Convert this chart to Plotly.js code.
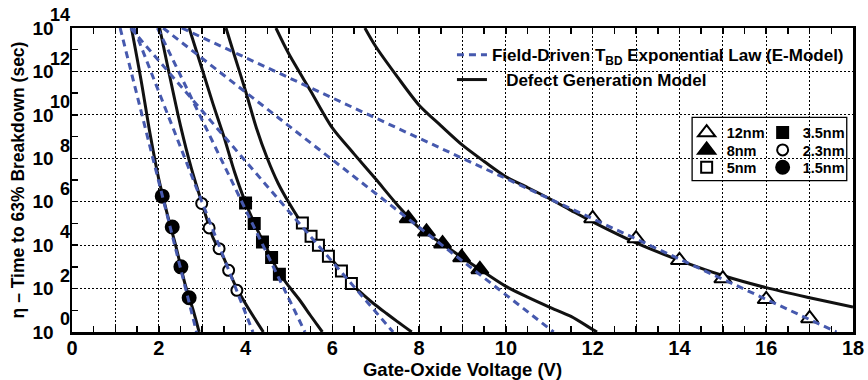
<!DOCTYPE html>
<html>
<head>
<meta charset="utf-8">
<script src="https://cdn.plot.ly/plotly-3.0.1.min.js"></script>
<style>html,body{margin:0;padding:0;background:#fff;}#chart{width:868px;height:380px;}</style>
</head>
<body>
<div id="chart"></div>
<script>
// ---- measured data: markers (gate-oxide voltage V, time-to-breakdown s) ----
const v15 = [2.08, 2.31, 2.51, 2.70];
const t15 = [1.8e6, 6.9e4, 1.0e3, 38];
const v23 = [2.99, 3.16, 3.39, 3.61, 3.80];
const t23 = [8.3e5, 6.2e4, 6.9e3, 6.9e2, 83];
const v35 = [4.00, 4.20, 4.39, 4.60, 4.78];
const t35 = [8.7e5, 1.0e5, 1.4e4, 2.7e3, 4.6e2];
const v50 = [5.31, 5.51, 5.68, 5.91, 6.21, 6.44];
const t50 = [1.05e5, 2.6e4, 1.0e4, 3.1e3, 6.5e2, 1.7e2];
const v80 = [7.75, 8.17, 8.54, 8.98, 9.40];
const t80 = [1.7e5, 4.1e4, 1.17e4, 2.7e3, 7.6e2];
const v120 = [12, 13, 14, 15, 16, 17];
const t120 = [1.7e5, 2.0e4, 2.0e3, 2.9e2, 32, 4.2];

// ---- Field-driven exponential law (E-model): straight lines on log scale ----
const eV15 = [1.11, 2.87],  eT15 = [1e14, 1];
const eV23 = [1.425, 4.17], eT23 = [1e14, 1];
const eV35 = [1.97, 5.37],  eT35 = [1e14, 1];
const eV50 = [1.35, 7.40],  eT50 = [1e14, 1];
const eV80 = [2.10, 11.10], eT80 = [1e14, 1];
const eV120 = [2.53, 17.62], eT120 = [1e14, 1];

// ---- Defect generation model curves ----
const dV15 = [1.37, 1.6, 1.8, 2.0, 2.2, 2.4, 2.6, 2.8, 2.93];
const dT15 = [1e14, 3.2e11, 1.3e9, 1.1e7, 2.5e5, 8e3, 1.8e2, 9, 1];
const dV23 = [2.02, 2.25, 2.5, 2.75, 3.0, 3.25, 3.5, 3.75, 4.0, 4.2, 4.41];
const dT23 = [1e14, 6.3e11, 3.2e9, 3.5e7, 7.9e5, 2.2e4, 2.5e3, 1.6e2, 20, 4.5, 1];
const dV35 = [2.7, 3.0, 3.25, 3.5, 3.75, 4.0, 4.25, 4.5, 4.75, 5.0, 5.25, 5.5, 5.77];
const dT35 = [1e14, 1.26e12, 3.2e10, 1e9, 2.2e7, 8.9e5, 6.3e4, 6.3e3, 6.3e2, 1.26e2, 29, 5.6, 1];
const dV50 = [3.55, 3.75, 4.0, 4.25, 4.5, 4.75, 5.0, 5.25, 5.5, 5.75, 6.0, 6.25, 6.5, 6.75, 7.0, 7.25, 7.5, 7.83];
const dT50 = [1e14, 5e12, 1.26e11, 2.5e9, 1e8, 7.1e6, 8.9e5, 1.4e5, 2.8e4, 7.1e3, 2e3, 5.2e2, 1.26e2, 45, 17, 7.1, 3, 1];
const dV80 = [4.7, 5.0, 5.5, 6.0, 6.5, 7.0, 7.5, 8.0, 8.5, 9.0, 9.5, 10.0, 10.5, 11.0, 11.5, 12.0, 12.1];
const dT80 = [1e14, 6.3e12, 1.26e11, 2.5e9, 1.6e8, 1.1e7, 7.1e5, 6.3e4, 1.3e4, 2.6e3, 5.6e2, 1.26e2, 40, 14, 5.2, 1.3, 1];
const dV120 = [6.75, 7.0, 7.5, 8.0, 8.5, 9.0, 9.5, 10.0, 10.5, 11.0, 11.5, 12, 13, 14, 15, 16, 17, 18];
const dT120 = [1e14, 1.4e13, 5.6e11, 2.8e10, 3.2e9, 4e8, 7.1e7, 1.4e7, 4.5e6, 1.4e6, 4e5, 1.17e5, 1.26e4, 2e3, 4e2, 1.1e2, 38, 14];

// ---- ticks and labels ----
const xGridVals = [0,1,2,3,4,5,6,7,8,9,10,11,12,13,14,15,16,17,18];
const xLabelVals = [0, 2, 4, 6, 8, 10, 12, 14, 16, 18];
const yTickVals = [1, 1e2, 1e4, 1e6, 1e8, 1e10, 1e12, 1e14];
const yTickBase = ['10','10','10','10','10','10','10','10'];
const yTickExp = ['0','2','4','6','8','10','12','14'];
const yMinorVals = [10, 1e3, 1e5, 1e7, 1e9, 1e11, 1e13];

const BLUE = '#4659AE';
const FONT = 'Liberation Sans, Arial, sans-serif';

const eSeries = [[eV15,eT15],[eV23,eT23],[eV35,eT35],[eV50,eT50],[eV80,eT80],[eV120,eT120]];
const dSeries = [[dV15,dT15],[dV23,dT23],[dV35,dT35],[dV50,dT50],[dV80,dT80],[dV120,dT120]];

const traces = [];
dSeries.forEach((s,i) => traces.push({
  x: s[0], y: s[1], mode: 'lines', type: 'scatter', xaxis: 'x', yaxis: 'y',
  line: {color: '#111', width: 3, shape: 'spline', smoothing: 0.8},
  name: '\u00a0\u00a0\u00a0Defect Generation Model',
  showlegend: i === 0, legend: 'legend5', hoverinfo: 'skip'
}));
eSeries.forEach((s,i) => traces.push({
  x: s[0], y: s[1], mode: 'lines', type: 'scatter', xaxis: 'x2', yaxis: 'y',
  line: {color: BLUE, width: 3, dash: '7px,5px'},
  name: 'Field-Driven T<sub>BD</sub> Exponential Law (E-Model)',
  showlegend: i === 0, legend: 'legend', hoverinfo: 'skip'
}));

const markerSeries = [
  {x: v120, y: t120, name: '12nm', symbol: 'triangle-up', fill: 'white', size: 15, leg: 'legend2', rank: 1, w: 31},
  {x: v35,  y: t35,  name: '3.5nm', symbol: 'square',     fill: 'black', size: 11, leg: 'legend2', rank: 2, w: 46},
  {x: v80,  y: t80,  name: '8nm',  symbol: 'triangle-up', fill: 'black', size: 15, leg: 'legend3', rank: 1, w: 31},
  {x: v23,  y: t23,  name: '2.3nm', symbol: 'circle',     fill: 'white', size: 11, leg: 'legend3', rank: 2, w: 46},
  {x: v50,  y: t50,  name: '5nm',  symbol: 'square',      fill: 'white', size: 11, leg: 'legend4', rank: 1, w: 31},
  {x: v15,  y: t15,  name: '1.5nm', symbol: 'circle',     fill: 'black', size: 13, leg: 'legend4', rank: 2, w: 46}
];
markerSeries.forEach(m => traces.push({
  x: m.x, y: m.y, mode: 'markers', type: 'scatter', name: m.name, xaxis: 'x', yaxis: 'y2',
  marker: {symbol: m.symbol, color: m.fill, size: m.size, line: {color: 'black', width: 2}},
  legend: m.leg, legendrank: m.rank, legendwidth: m.w, hoverinfo: 'skip'
}));

const topFont = {family: FONT, size: 17, color: 'black', weight: 'bold'};
const boxFont = {family: FONT, size: 14.5, color: 'black', weight: 'bold'};
function rowLegend(y) {
  return {x: 0.787, y: y, xanchor: 'left', yanchor: 'middle', orientation: 'h',
    entrywidthmode: 'pixels',
    bgcolor: 'rgba(0,0,0,0)', borderwidth: 0, font: boxFont, traceorder: 'normal'};
}
function lineLegend(y) {
  return {x: 0.4865, y: y, xanchor: 'left', yanchor: 'middle',
    bgcolor: 'rgba(0,0,0,0)', borderwidth: 0, font: topFont};
}
const tickCommon = {ticks: 'inside', ticklen: 6, tickwidth: 1.5, tickcolor: 'black'};
const gridCommon = {showgrid: true, gridcolor: 'black', gridwidth: 1, griddash: '1.5px,2.5px'};

const layout = {
  width: 868, height: 380,
  margin: {l: 72, r: 15, t: 28, b: 48, autoexpand: false},
  paper_bgcolor: 'white', plot_bgcolor: 'white',
  showlegend: true,
  font: {family: FONT, color: 'black'},
  xaxis: Object.assign({
    range: [0, 18], tickmode: 'array', tickvals: xGridVals, showticklabels: false,
    showline: true, linecolor: 'black', linewidth: 2.5, mirror: 'allticks', zeroline: false,
    minor: Object.assign({dtick: 0.5, showgrid: false}, tickCommon)
  }, tickCommon, gridCommon),
  xaxis2: {
    overlaying: 'x', anchor: 'y', side: 'bottom', range: [0, 18],
    tickmode: 'array', tickvals: xLabelVals, ticks: '', showgrid: false, showline: false, zeroline: false,
    ticklabelstandoff: 2,
    tickfont: {family: FONT, size: 20, weight: 'bold', color: 'black'},
    title: {text: 'Gate-Oxide Voltage (V)', font: {family: FONT, size: 18.5, weight: 'bold', color: 'black'}, standoff: 2}
  },
  yaxis: Object.assign({
    type: 'log', range: [0, 14], tickmode: 'array', tickvals: yTickVals, ticktext: yTickBase,
    showline: true, linecolor: 'black', linewidth: 2.5, mirror: true, zeroline: false,
    ticklabelstandoff: 12,
    tickfont: {family: FONT, size: 19, weight: 'bold', color: 'black'},
    minor: Object.assign({tickmode: 'array', tickvals: yMinorVals, showgrid: false}, tickCommon),
    title: {text: 'η – Time to 63% Breakdown (sec)', font: {family: FONT, size: 17.5, weight: 'bold', color: 'black'}, standoff: 4}
  }, tickCommon, gridCommon),
  yaxis2: {
    overlaying: 'y', anchor: 'x', side: 'left', type: 'log', range: [0, 14],
    tickmode: 'array', tickvals: yTickVals, ticktext: yTickExp, ticks: '',
    showgrid: false, showline: false, zeroline: false,
    ticklabelstandoff: 1, ticklabelshift: -13,
    tickfont: {family: FONT, size: 18, weight: 'bold', color: 'black'}
  },
  legend: lineLegend(0.9102),
  legend5: lineLegend(0.8289),
  legend2: rowLegend(0.6556),
  legend3: rowLegend(0.5987),
  legend4: rowLegend(0.5418),
  shapes: [{
    type: 'rect', xref: 'paper', yref: 'paper',
    x0: 0.794, x1: 0.992, y0: 0.498, y1: 0.706,
    line: {color: 'black', width: 1.3}, fillcolor: 'white', layer: 'below'
  }]
};

Plotly.newPlot('chart', traces, layout, {staticPlot: true, displayModeBar: false});
</script>
</body>
</html>
